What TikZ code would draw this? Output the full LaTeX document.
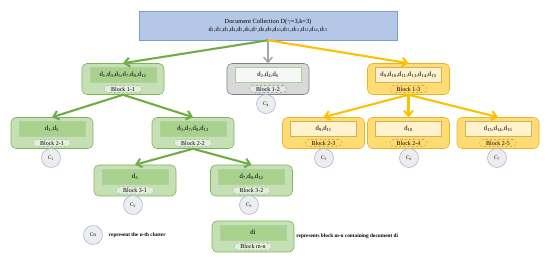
\documentclass[tikz,border=0pt]{standalone}
\usepackage{fontspec}
\setmainfont{Liberation Serif}
\usetikzlibrary{arrows.meta, positioning, calc}

\definecolor{rootblue}{HTML}{B4C7E7}
\definecolor{rootedge}{HTML}{7F9CCF}
\definecolor{grnfill}{HTML}{C5E0B4}
\definecolor{grnedge}{HTML}{7DB356}
\definecolor{grninner}{HTML}{A9D18E}
\definecolor{grntag}{HTML}{E4EEDD}
\definecolor{ylwfill}{HTML}{FFDC73}
\definecolor{ylwedge}{HTML}{E6B42A}
\definecolor{ylwinner}{HTML}{FFF2CC}
\definecolor{ylwline}{HTML}{C8B560}
\definecolor{gryfill}{HTML}{D9D9D9}
\definecolor{gryedge}{HTML}{808080}
\definecolor{grytag}{HTML}{E7E6E6}
\definecolor{clusfill}{HTML}{EDEDED}
\definecolor{clusedge}{HTML}{9DB4DE}
\definecolor{grnarrow}{HTML}{70AD47}
\definecolor{ylwarrow}{HTML}{FFC000}
\definecolor{gryarrow}{HTML}{A5A5A5}

\newcommand{\dsub}[1]{d\textsubscript{#1}}
\newcommand{\csub}[1]{C\textsubscript{#1}}

\begin{document}
\begin{tikzpicture}[
  block/.style={rectangle, rounded corners=7pt, minimum width=4.1cm, minimum height=1.55cm, line width=0.8pt},
  gblock/.style={block, draw=grnedge, fill=grnfill},
  yblock/.style={block, draw=ylwedge, fill=ylwfill},
  kblock/.style={block, draw=gryedge, fill=gryfill},
  docs/.style={rectangle, minimum width=3.3cm, minimum height=0.75cm, inner sep=1pt, line width=0.6pt, font=\fontsize{9.5}{10}\selectfont},
  gdocs/.style={docs, fill=grninner, draw=grnedge!60},
  ydocs/.style={docs, fill=ylwinner, draw=ylwline},
  kdocs/.style={docs, fill=gray!6, draw=grninner},
  tag/.style={rectangle, rounded corners=0.17cm, minimum width=1.85cm, minimum height=0.34cm, inner sep=0.5pt, dashed, line width=0.5pt, font=\fontsize{8.5}{9}\selectfont},
  gtag/.style={tag, fill=grntag, draw=gray!70},
  ytag/.style={tag, fill=ylwfill, draw=ylwedge!80!black},
  ktag/.style={tag, fill=grytag, draw=gryedge},
  clus/.style={circle, minimum size=0.95cm, inner sep=0pt, fill=clusfill, draw=clusedge, line width=0.8pt, font=\fontsize{7.5}{8}\selectfont},
  legend/.style={inner sep=0pt, font=\fontsize{7.5}{8}\selectfont\bfseries},
  tip/.style={-{Straight Barb[length=2.5mm,width=4.5mm]}},
  garrow/.style={tip, line width=3pt, grnarrow},
  yarrow/.style={tip, line width=3pt, ylwarrow},
  karrow/.style={tip, line width=2.2pt, gryarrow}
]
  \useasboundingbox (0,0) rectangle (27.5,13.1);

  % Colecao de documentos
  \node[rectangle, draw=rootedge, fill=rootblue, line width=0.8pt, minimum width=12.9cm, minimum height=1.45cm,
        align=center, font=\fontsize{9}{11}\selectfont] (root) at (13.4,11.825)
        {Document Collection D($\gamma$=3,k=3)\\
         \dsub{1},\dsub{2},\dsub{3},\dsub{4},\dsub{5},\dsub{6},\dsub{7},\dsub{8},\dsub{9},\dsub{10},\dsub{11},\dsub{12},\dsub{13},\dsub{14},\dsub{15}};

  % Nivel 1
  \node[gblock] (b11) at (6.15,9.15) {};
  \node[gdocs] (b11d) at ([yshift=2mm]b11.center) {\dsub{1},\dsub{3},\dsub{5},\dsub{7},\dsub{8},\dsub{12}};
  \node[gtag] (b11t) at ([yshift=-5mm]b11.center) {Block 1-1};

  \node[kblock] (b12) at (13.4,9.15) {};
  \node[kdocs] (b12d) at ([yshift=2mm]b12.center) {\dsub{2},\dsub{4},\dsub{6}};
  \node[ktag] (b12t) at ([yshift=-5mm]b12.center) {Block 1-2};
  \node[clus] (c4) at (13.3,7.9) {\csub{4}};

  \node[yblock] (b13) at (20.425,9.15) {};
  \node[ydocs] (b13d) at ([yshift=2mm]b13.center) {\dsub{9},\dsub{10},\dsub{11},\dsub{13},\dsub{14},\dsub{15}};
  \node[ytag] (b13t) at ([yshift=-5mm]b13.center) {Block 1-3};

  % Nivel 2
  \node[gblock] (b21) at (2.6,6.45) {};
  \node[gdocs] (b21d) at ([yshift=2mm]b21.center) {\dsub{1},\dsub{5}};
  \node[gtag] (b21t) at ([yshift=-5mm]b21.center) {Block 2-1};
  \node[clus] (c1) at (2.55,5.2) {\csub{1}};

  \node[gblock] (b22) at (9.65,6.45) {};
  \node[gdocs] (b22d) at ([yshift=2mm]b22.center) {\dsub{3},\dsub{7},\dsub{8},\dsub{12}};
  \node[gtag] (b22t) at ([yshift=-5mm]b22.center) {Block 2-2};

  \node[yblock] (b23) at (16.175,6.45) {};
  \node[ydocs] (b23d) at ([yshift=2mm]b23.center) {\dsub{9},\dsub{11}};
  \node[ytag] (b23t) at ([yshift=-5mm]b23.center) {Block 2-3};
  \node[clus] (c5) at (16.2,5.2) {\csub{5}};

  \node[yblock] (b24) at (20.425,6.45) {};
  \node[ydocs] (b24d) at ([yshift=2mm]b24.center) {\dsub{10}};
  \node[ytag] (b24t) at ([yshift=-5mm]b24.center) {Block 2-4};
  \node[clus] (c6) at (20.45,5.2) {\csub{6}};

  \node[yblock] (b25) at (24.9,6.45) {};
  \node[ydocs] (b25d) at ([yshift=2mm]b25.center) {\dsub{13},\dsub{14},\dsub{15}};
  \node[ytag] (b25t) at ([yshift=-5mm]b25.center) {Block 2-5};
  \node[clus] (c7) at (24.85,5.2) {\csub{7}};

  % Nivel 3
  \node[gblock] (b31) at (6.75,4.075) {};
  \node[gdocs] (b31d) at ([yshift=2mm]b31.center) {\dsub{3}};
  \node[gtag] (b31t) at ([yshift=-5mm]b31.center) {Block 3-1};
  \node[clus] (c2) at (6.65,2.85) {\csub{2}};

  \node[gblock] (b32) at (12.575,4.075) {};
  \node[gdocs] (b32d) at ([yshift=2mm]b32.center) {\dsub{7},\dsub{8},\dsub{12}};
  \node[gtag] (b32t) at ([yshift=-5mm]b32.center) {Block 3-2};
  \node[clus] (c3) at (12.45,2.85) {\csub{3}};

  % Setas
  \draw[garrow] (root.south) -- (b11.north);
  \draw[karrow] (root.south) -- (b12.north);
  \draw[yarrow] (root.south) -- (b13.north);
  \draw[garrow] (b11.south) -- (b21.north);
  \draw[garrow] (b11.south) -- (b22.north);
  \draw[garrow] (b22.south) -- (b31.north);
  \draw[garrow] (b22.south) -- (b32.north);
  \draw[yarrow] (b13.south) -- (b23.north);
  \draw[yarrow] (b13.south) -- (b24.north);
  \draw[yarrow] (b13.south) -- (b25.north);

  % Legenda
  \node[clus] (cn) at (4.65,1.35) {Cn};
  \node[legend, right=3mm of cn] (cntext) {represent the n-th cluster};
  \node[gblock] (bmn) at (12.65,1.275) {};
  \node[gdocs] (bmnd) at ([yshift=2mm]bmn.center) {di};
  \node[gtag] (bmnt) at ([yshift=-5mm]bmn.center) {Block m-n};
  \node[legend, right=1mm of bmn] (bmntext) {represents block m-n containing document di};
\end{tikzpicture}
\end{document}
